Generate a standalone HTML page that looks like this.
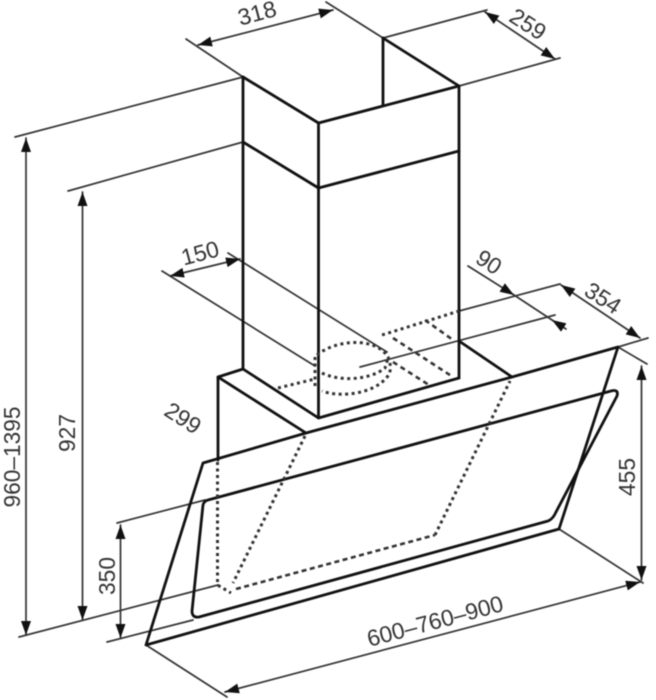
<!DOCTYPE html>
<html>
<head>
<meta charset="utf-8">
<style>
html,body{margin:0;padding:0;background:#fff;width:656px;height:700px;overflow:hidden}
svg{display:block;filter:blur(.4px)}
text{font-family:"Liberation Sans",sans-serif;font-size:23px;fill:#333;text-anchor:middle;dominant-baseline:central}
.m{fill:none;stroke:#111;stroke-width:2.8;stroke-linejoin:round;stroke-linecap:round}
.t{fill:none;stroke:#333;stroke-width:1.7;stroke-linecap:round}
.d{fill:none;stroke:#333;stroke-width:3;stroke-dasharray:3 3.5}
.h{fill:none;stroke:#333;stroke-width:2.6;stroke-dasharray:5 4}
</style>
</head>
<body>
<svg width="656" height="700" viewBox="0 0 656 700" xmlns="http://www.w3.org/2000/svg">
<defs>
<marker id="a" markerUnits="userSpaceOnUse" markerWidth="15" markerHeight="11" refX="14" refY="5.5" orient="auto-start-reverse">
<path d="M0 .5L14 5.5L0 10.5Z" fill="#111"/>
</marker>
</defs>

<!-- extension lines -->
<g class="t">
<path d="M186 39L243 77"/>
<path d="M326 2L383 38"/>
<path d="M383 38L487 10"/>
<path d="M459 86L560 58"/>
<path d="M243 77L15 137"/>
<path d="M243 142L68 191"/>
<path d="M19 637L218 585"/>
<path d="M117 523L205 500"/>
<path d="M107 642L193 620"/>
<path d="M162 271L315 366"/>
<path d="M228 253L387 352"/>
<path d="M360 367L555 315"/>
<path d="M459 311L560 284"/>
<path d="M648 338L618 347"/>
<path d="M618 347L647 364"/>
<path d="M559 529L643 583"/>
<path d="M146 645L227 697"/>
</g>

<!-- dimension lines -->
<g class="t">
<path d="M198 45L333 10" marker-start="url(#a)" marker-end="url(#a)"/>
<path d="M485 12L555 59" marker-start="url(#a)" marker-end="url(#a)"/>
<path d="M26 138V635" marker-start="url(#a)" marker-end="url(#a)"/>
<path d="M82.5 192V620" marker-start="url(#a)" marker-end="url(#a)"/>
<path d="M120.5 525V638" marker-start="url(#a)" marker-end="url(#a)"/>
<path d="M170 276L240 259" marker-start="url(#a)" marker-end="url(#a)"/>
<path d="M561 285L640 338" marker-start="url(#a)" marker-end="url(#a)"/>
<path d="M641.5 366V580" marker-start="url(#a)" marker-end="url(#a)"/>
<path d="M640 582L225 692" marker-start="url(#a)" marker-end="url(#a)"/>
<path d="M468 266L514 295" marker-end="url(#a)"/>
<path d="M514 295L552 320"/>
<path d="M566 329L552 320" marker-end="url(#a)"/>
</g>

<!-- chimney -->
<g class="m">
<path d="M243 77V369"/>
<path d="M243 77L318.5 123L459 86L383 38"/>
<path d="M383 38V105"/>
<path d="M318.5 123V418"/>
<path d="M459 86V378"/>
<path d="M243 142L318.5 188L459 151"/>
<!-- base -->
<path d="M243 369L218 377V460"/>
<path d="M243 369L318.5 418L459 378"/>
<path d="M218 377L306 433"/>
<path d="M459 341L512 377"/>
<path d="M203 463L306 433L512 377L618 347L559 529L146 645Z"/>
<!-- inner glass -->
<path d="M203 505Q204 501 208 500L611 391Q619 389 617 396L556 512Q553 519 548 521L199 617Q192 618 192 611Z"/>
</g>

<!-- dotted hidden lines -->
<g class="d">
<path d="M217.5 462V585L231 593"/>
<path d="M305 436L233 583"/>
<path d="M435 535L510 381"/>
<path d="M278 388L315 379"/>
<path d="M315 357V388"/>
<path d="M317 355C335 340 375 336 388 357C394 372 388 378 378 385C360 396 335 396 322 391"/>
<path d="M322 373C340 382 370 380 385 368L388 358"/>
<path d="M382 335L459 311"/>
</g>
<g class="h">
<path d="M236 589L435 535" stroke-dasharray="5 3.5"/>
<path d="M425 320L453 340"/>
<path d="M393 338L453 377"/>
<path d="M393 362L429 385"/>
</g>

<!-- labels -->
<g lengthAdjust="spacingAndGlyphs">
<text x="257" y="13" transform="rotate(-15 257 13)" textLength="39" lengthAdjust="spacingAndGlyphs">318</text>
<text x="528" y="24" transform="rotate(33 528 24)" textLength="38" lengthAdjust="spacingAndGlyphs">259</text>
<text x="200" y="253" transform="rotate(-15 200 253)" textLength="38" lengthAdjust="spacingAndGlyphs">150</text>
<text x="183" y="418" transform="rotate(33 183 418)" textLength="38" lengthAdjust="spacingAndGlyphs">299</text>
<text x="489" y="262" transform="rotate(33 489 262)" textLength="25" lengthAdjust="spacingAndGlyphs">90</text>
<text x="603" y="298" transform="rotate(33 603 298)" textLength="38" lengthAdjust="spacingAndGlyphs">354</text>
<text x="627" y="477" transform="rotate(-90 627 477)" textLength="38" lengthAdjust="spacingAndGlyphs">455</text>
<text x="435" y="621" transform="rotate(-15 435 621)" textLength="140" lengthAdjust="spacingAndGlyphs">600–760–900</text>
<text x="107" y="576" transform="rotate(-90 107 576)" textLength="38" lengthAdjust="spacingAndGlyphs">350</text>
<text x="67" y="433" transform="rotate(-90 67 433)" textLength="38" lengthAdjust="spacingAndGlyphs">927</text>
<text x="12" y="457" transform="rotate(-90 12 457)" textLength="101" lengthAdjust="spacingAndGlyphs">960–1395</text>
</g>
</svg>
</body>
</html>
